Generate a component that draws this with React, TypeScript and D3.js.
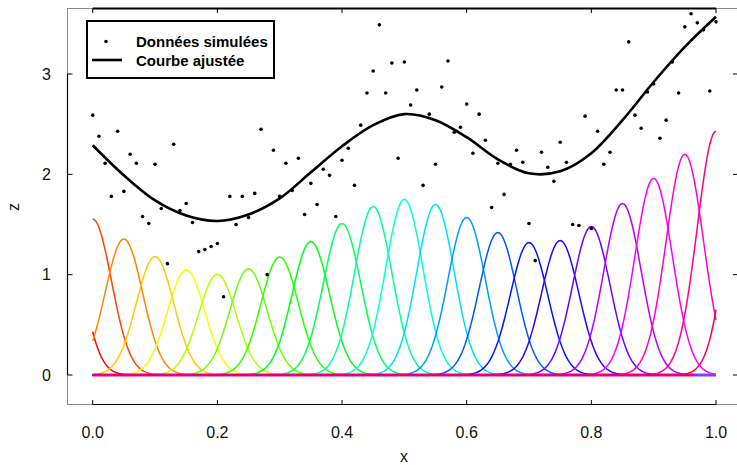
import React from "react";
import * as d3 from "d3";

// Simulated data: z at x = i/100, i = 0..100
const pointX: number[] = d3.range(0, 101).map((i) => i / 100);
const pointZ: number[] = [
  2.59, 2.38, 2.11, 1.78, 2.43, 1.83, 2.2, 2.11, 1.58, 1.51,
  2.1, 1.66, 1.11, 2.3, 1.64, 1.71, 1.52, 1.23, 1.25, 1.28,
  1.31, 0.78, 1.78, 1.5, 1.78, 1.57, 1.81, 2.45, 1.0, 2.24,
  1.78, 2.11, 1.84, 2.16, 1.6, 1.91, 1.7, 2.05, 1.99, 1.58,
  2.14, 2.26, 1.89, 2.49, 2.81, 3.03, 3.49, 2.81, 3.11, 2.16,
  3.12, 2.69, 2.84, 1.89, 2.6, 2.1, 2.87, 3.13, 2.42, 2.47,
  2.7, 2.21, 2.6, 2.34, 1.67, 2.11, 1.8, 2.1, 2.24, 2.12,
  1.51, 1.14, 2.22, 2.07, 1.93, 2.32, 2.12, 1.5, 1.49, 2.58,
  1.46, 2.43, 2.1, 2.22, 2.84, 2.84, 3.32, 2.59, 2.46, 2.82,
  2.9, 2.36, 2.54, 3.12, 2.81, 3.47, 3.6, 3.51, 3.44, 2.83,
  3.52,
];

// Fitted curve
const fitX: number[] = [0, 0.05, 0.1, 0.15, 0.2, 0.25, 0.3, 0.35, 0.4, 0.45, 0.5, 0.55, 0.6, 0.65, 0.7, 0.75, 0.8, 0.85, 0.9, 0.95, 1.0];
const fitZ: number[] = [2.29, 1.99, 1.74, 1.59, 1.535, 1.6, 1.76, 2.02, 2.28, 2.49, 2.6, 2.54, 2.37, 2.15, 2.01, 2.03, 2.21, 2.54, 2.92, 3.27, 3.57];

// Weighted gaussian basis functions
const bumpCenters: number[] = [-0.05, 0, 0.05, 0.1, 0.15, 0.2, 0.25, 0.3, 0.35, 0.4, 0.45, 0.5, 0.55, 0.6, 0.65, 0.7, 0.75, 0.8, 0.85, 0.9, 0.95, 1.0, 1.05];
const bumpHeights: number[] = [1.73, 1.555, 1.356, 1.18, 1.047, 1.004, 1.057, 1.176, 1.33, 1.51, 1.68, 1.75, 1.7, 1.57, 1.42, 1.32, 1.34, 1.48, 1.71, 1.96, 2.2, 2.43, 2.61];
const bumpSigma = 0.03;

const xTicks: number[] = [0, 0.2, 0.4, 0.6, 0.8, 1.0];
const xTickLabels: string[] = ["0.0", "0.2", "0.4", "0.6", "0.8", "1.0"];
const zTicks: number[] = [0, 1, 2, 3];
const zTickLabels: string[] = ["0", "1", "2", "3"];

const legendLabels: string[] = ["Données simulées", "Courbe ajustée"];

export default function App() {
  const W = 737;
  const H = 465;
  const x = d3.scaleLinear().domain([0, 1]).range([92.7, 716]);
  const y = d3.scaleLinear().domain([0, 3]).range([375, 74]);
  const font = "'Liberation Sans', Arial, sans-serif";

  const grid = d3.range(0, 401).map((i) => i / 400);
  const bumpLine = d3
    .line<[number, number]>()
    .x((d) => x(d[0]))
    .y((d) => y(d[1]));

  const n = bumpCenters.length;
  const bumps = bumpCenters.map((c, k) => {
    const pts: [number, number][] = grid.map((g) => [
      g,
      bumpHeights[k] * Math.exp(-((g - c) * (g - c)) / (2 * bumpSigma * bumpSigma)),
    ]);
    const col = d3.hsl((k / n) * 360, 1, 0.5).formatHex();
    return { d: bumpLine(pts) as string, col };
  });

  const fitLine = d3
    .line<number>()
    .x((_, i) => x(fitX[i]))
    .y((d) => y(d))
    .curve(d3.curveCatmullRom.alpha(0.5));

  return (
    <svg
      width={W}
      height={H}
      style={{ position: "absolute", left: 0, top: 0, background: "#fff" }}
      fontFamily={font}
    >
      {/* plot box */}
      <rect x={67.5} y={8.5} width={672} height={396} fill="none" stroke="#8a8a8a" strokeWidth={1} />

      {/* bottom axis */}
      <line x1={x(0)} x2={x(1)} y1={404.5} y2={404.5} stroke="#000" strokeWidth={1.2} />
      {xTicks.map((t, i) => (
        <g key={"xt" + i}>
          <line x1={x(t)} x2={x(t)} y1={404.5} y2={400} stroke="#000" strokeWidth={1} />
          <line x1={x(t)} x2={x(t)} y1={8.5} y2={13} stroke="#000" strokeWidth={1} />
          <text x={x(t)} y={438} textAnchor="middle" fontSize={16} fill="#111">
            {xTickLabels[i]}
          </text>
        </g>
      ))}
      {/* top axis */}
      <line x1={x(0)} x2={x(1)} y1={8.5} y2={8.5} stroke="#000" strokeWidth={2.2} />

      {/* left axis */}
      <line x1={67.5} x2={67.5} y1={y(0)} y2={y(3)} stroke="#000" strokeWidth={1.2} />
      {zTicks.map((t, i) => (
        <g key={"zt" + i}>
          <line x1={67.5} x2={72.5} y1={y(t)} y2={y(t)} stroke="#000" strokeWidth={1} />
          <line x1={733} x2={738} y1={y(t)} y2={y(t)} stroke="#000" strokeWidth={1} />
          <text x={51} y={y(t) + 5.5} textAnchor="end" fontSize={16} fill="#111">
            {zTickLabels[i]}
          </text>
        </g>
      ))}

      {/* axis titles */}
      <text x={404} y={462} textAnchor="middle" fontSize={16} fill="#111">x</text>
      <text transform="translate(19,207) rotate(-90)" textAnchor="middle" fontSize={16} fill="#111">z</text>

      {/* basis functions */}
      {bumps.map((b, i) => (
        <path key={"b" + i} d={b.d} fill="none" stroke={b.col} strokeWidth={1.5} />
      ))}
      {/* zero baseline overlap */}
      <line x1={x(0)} x2={x(0.965)} y1={y(0)} y2={y(0)} stroke="#e4007c" strokeWidth={3} />
      <line x1={x(0.965)} x2={x(1)} y1={y(0)} y2={y(0)} stroke="#8040f0" strokeWidth={3} />

      {/* points */}
      {pointZ.map((z, i) => (
        <circle key={"p" + i} cx={x(pointX[i])} cy={y(z)} r={1.8} fill="#000" />
      ))}

      {/* fitted curve */}
      <path d={fitLine(fitZ) as string} fill="none" stroke="#000" strokeWidth={2.6} />

      {/* legend */}
      <rect x={87} y={21} width={187} height={57} fill="#fff" stroke="#000" strokeWidth={2} />
      <circle cx={106} cy={41.5} r={1.8} fill="#000" />
      <line x1={92} x2={122} y1={60} y2={60} stroke="#000" strokeWidth={2.6} />
      <text x={136} y={47} fontSize={15} fontWeight="bold" fill="#000">{legendLabels[0]}</text>
      <text x={136} y={66} fontSize={15} fontWeight="bold" fill="#000">{legendLabels[1]}</text>
    </svg>
  );
}
